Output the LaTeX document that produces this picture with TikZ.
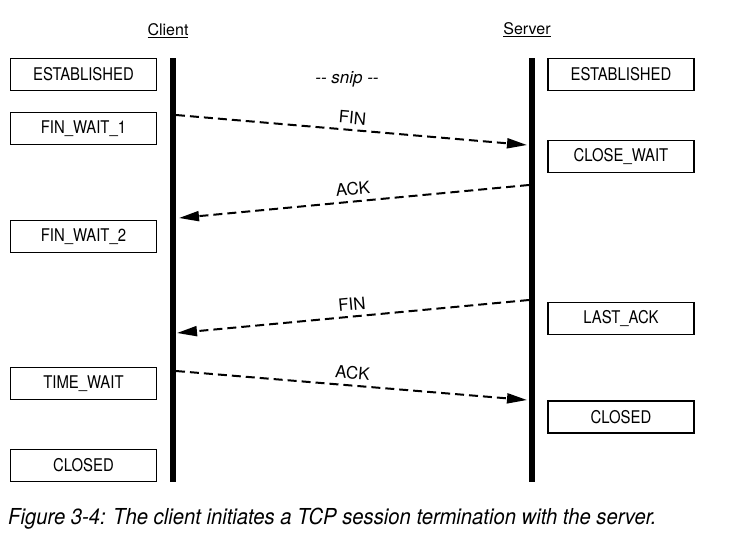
\documentclass[tikz,border=0pt]{standalone}
\usepackage{fontspec}
\setmainfont{TeX Gyre Heros}[FakeStretch=0.85]
\newfontfamily\plainfont{TeX Gyre Heros}
\newfontfamily\capfont{TeX Gyre Heros}[FakeStretch=0.92]
\usetikzlibrary{arrows.meta}
\begin{document}
\begin{tikzpicture}[x=1pt,y=-1pt,
  state/.style={draw, line width=1.6pt, minimum width=146pt, minimum height=32pt, inner sep=0pt, font=\fontsize{17.5}{20}\selectfont},
  lifeline/.style={line width=6pt},
  msg/.style={line width=2pt, dash pattern=on 9pt off 5pt, -{Triangle[length=20pt,width=10pt]}},
  lbl/.style={font=\plainfont\fontsize{17}{20}\selectfont, sloped, above=3pt, midway, inner sep=2pt},
  head/.style={font=\plainfont\fontsize{16}{19}\selectfont}]
\useasboundingbox (0,0) rectangle (734,550);
\fill[white] (0,0) rectangle (734,550);
% headers
\node[head] (client) at (168,31) {\underline{Client}};
\node[head] (server) at (527,30) {\underline{Server}};
\node[font=\plainfont\fontsize{17}{20}\selectfont\itshape] (snip) at (347,79) {-{}- snip -{}-};
% lifelines
\coordinate (ctop) at (173,58);
\coordinate (cbot) at (173,482);
\coordinate (stop) at (532,58);
\coordinate (sbot) at (532,482);
\draw[lifeline] (ctop) -- (cbot);
\draw[lifeline] (stop) -- (sbot);
% client states
\node[state] (c1) at (83.5,74.5) {ESTABLISHED};
\node[state] (c2) at (83.5,128.5) {FIN\_WAIT\_1};
\node[state] (c3) at (83.5,236.5) {FIN\_WAIT\_2};
\node[state] (c4) at (83.5,383.5) {TIME\_WAIT};
\node[state] (c5) at (83.5,465.5) {CLOSED};
% server states
\node[state] (s1) at (621,74.5) {ESTABLISHED};
\node[state] (s2) at (621,156.5) {CLOSE\_WAIT};
\node[state] (s3) at (621,318.5) {LAST\_ACK};
\node[state] (s4) at (621,417) {CLOSED};
% message end points
\coordinate (m1a) at (176,115);
\coordinate (m1b) at (527,145);
\coordinate (m2a) at (529,185);
\coordinate (m2b) at (179,218);
\coordinate (m3a) at (529,300);
\coordinate (m3b) at (177,333);
\coordinate (m4a) at (176,371);
\coordinate (m4b) at (527,400);
\draw[msg] (m1a) -- node[lbl] {FIN} (m1b);
\draw[msg] (m2a) -- node[lbl] {ACK} (m2b);
\draw[msg] (m3a) -- node[lbl] {FIN} (m3b);
\draw[msg] (m4a) -- node[lbl] {ACK} (m4b);
% caption
\node[anchor=base west, inner sep=0pt, font=\capfont\fontsize{22}{26}\selectfont\itshape] (cap) at (8,524) {Figure 3-4: The client initiates a TCP session termination with the server.};
\end{tikzpicture}
\end{document}
